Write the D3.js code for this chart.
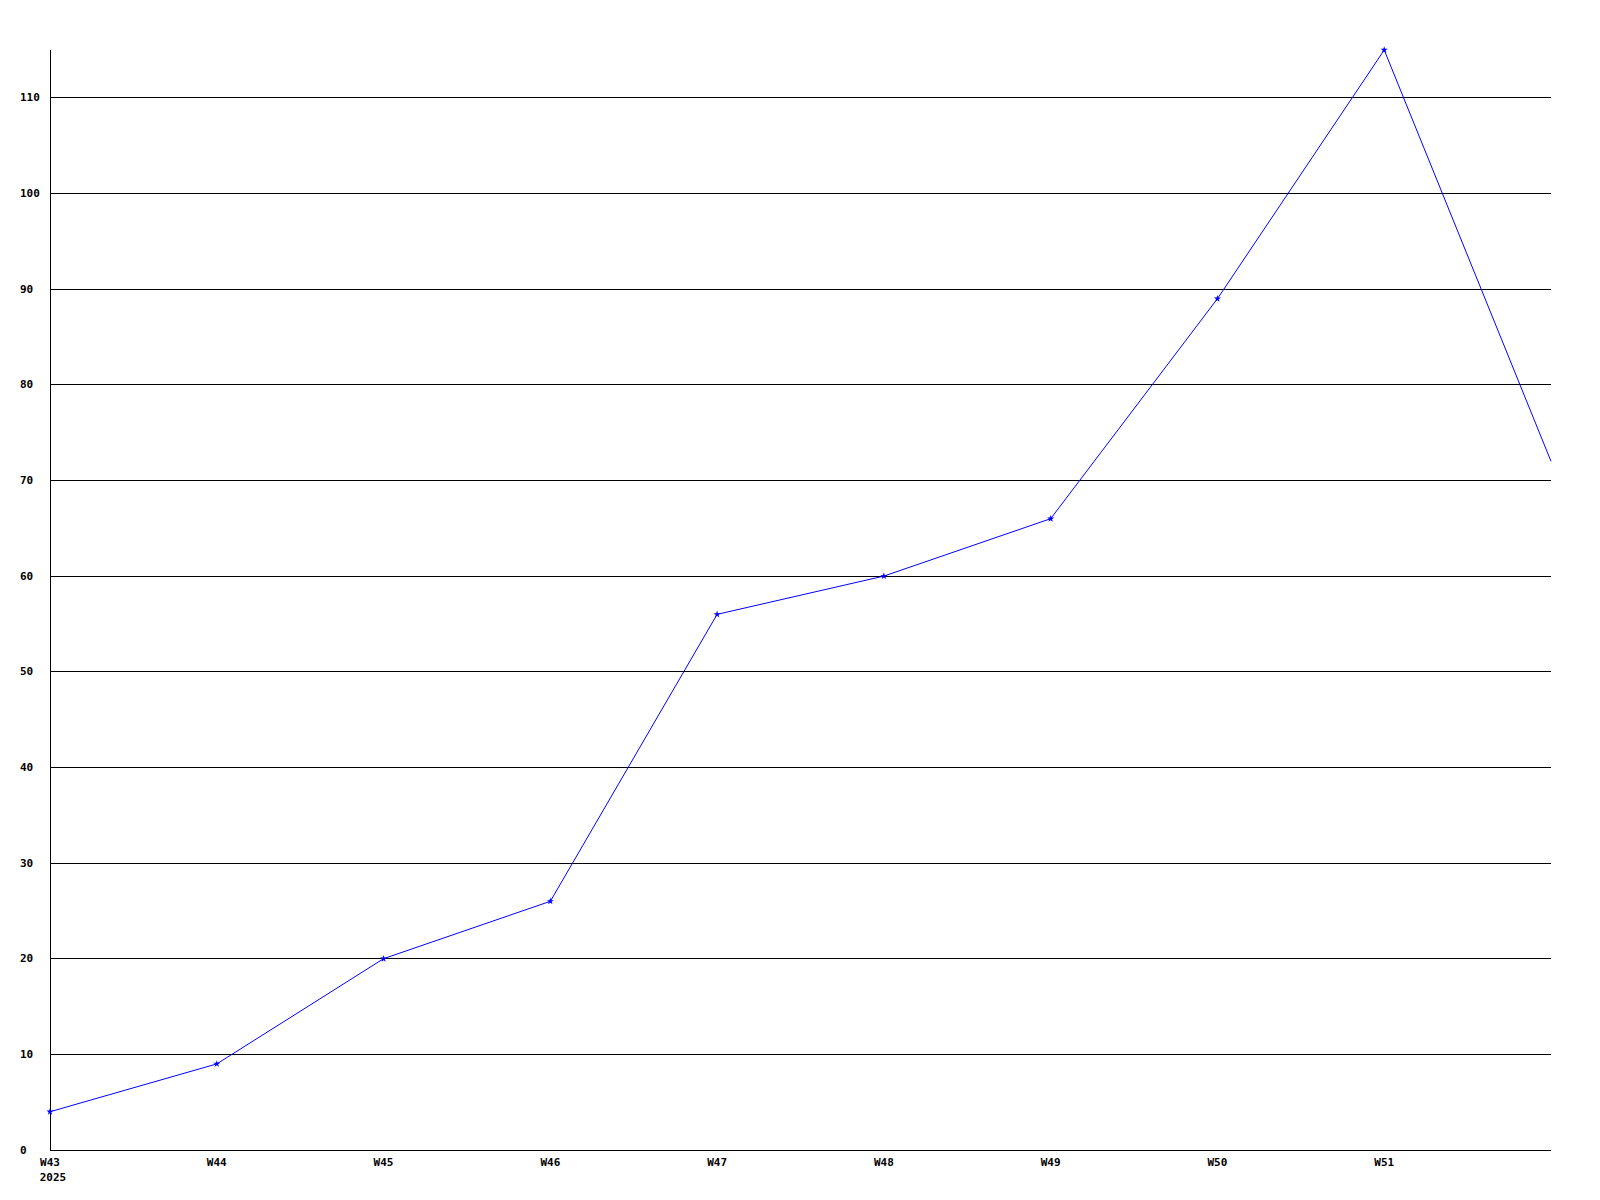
<!DOCTYPE html>
<html>
<head>
<meta charset="utf-8">
<script src="https://cdn.jsdelivr.net/npm/d3@7"></script>
<style>
html,body{margin:0;padding:0;background:#fff;}
svg text{font-family:"DejaVu Sans Mono",monospace;font-weight:bold;font-size:11px;fill:#000;}
</style>
</head>
<body>
<svg id="chart" width="1600" height="1200"></svg>
<script>
const weeks = ["W43","W44","W45","W46","W47","W48","W49","W50","W51","W52"];
const tickWeeks = ["W43","W44","W45","W46","W47","W48","W49","W50","W51"];
const values = [4, 9, 20, 26, 56, 60, 66, 89, 115, 72];
const yTicks = [0,10,20,30,40,50,60,70,80,90,100,110];
const yearLabel = "2025";

const svg = d3.select("#chart");
const mLeft = 50, mRight = 1551, mTop = 50, mBottom = 1150;

const x = d3.scalePoint().domain(weeks).range([mLeft, mRight]);
const y = d3.scaleLinear().domain([0, 115]).range([mBottom, mTop]);

// gridlines
svg.append("g").selectAll("line").data(yTicks.filter(d => d > 0)).join("line")
  .attr("x1", mLeft).attr("x2", mRight)
  .attr("y1", d => Math.floor(y(d)) + 0.5).attr("y2", d => Math.floor(y(d)) + 0.5)
  .attr("stroke", "#000").attr("stroke-width", 1);

// axes lines
svg.append("line").attr("x1", mLeft + 0.5).attr("x2", mLeft + 0.5).attr("y1", mTop).attr("y2", mBottom)
  .attr("stroke", "#000");
svg.append("line").attr("x1", mLeft).attr("x2", mRight).attr("y1", mBottom + 0.5).attr("y2", mBottom + 0.5)
  .attr("stroke", "#000");

// y labels (left-aligned)
svg.append("g").selectAll("text").data(yTicks).join("text")
  .attr("x", 20).attr("y", d => Math.floor(y(d))).attr("dy", "0.35em")
  .attr("text-anchor", "start").text(d => d);

// x labels
svg.append("g").selectAll("text").data(tickWeeks).join("text")
  .attr("x", d => x(d)).attr("y", 1166)
  .attr("text-anchor", "middle").text(d => d);
svg.append("text").attr("x", x(weeks[0]) + 3).attr("y", 1181)
  .attr("text-anchor", "middle").text(yearLabel);

// line
const line = d3.line().x((d, i) => x(weeks[i])).y(d => y(d));
svg.append("path").datum(values).attr("d", line)
  .attr("fill", "none").attr("stroke", "#0000ff").attr("stroke-width", 1);

// markers
svg.append("g").selectAll("path").data(values.slice(0, 9)).join("path")
  .attr("transform", (d, i) => `translate(${x(weeks[i])},${y(d)})`)
  .attr("d", d3.symbol().type(d3.symbolStar).size(16))
  .attr("fill", "#0000ff");
</script>
</body>
</html>
